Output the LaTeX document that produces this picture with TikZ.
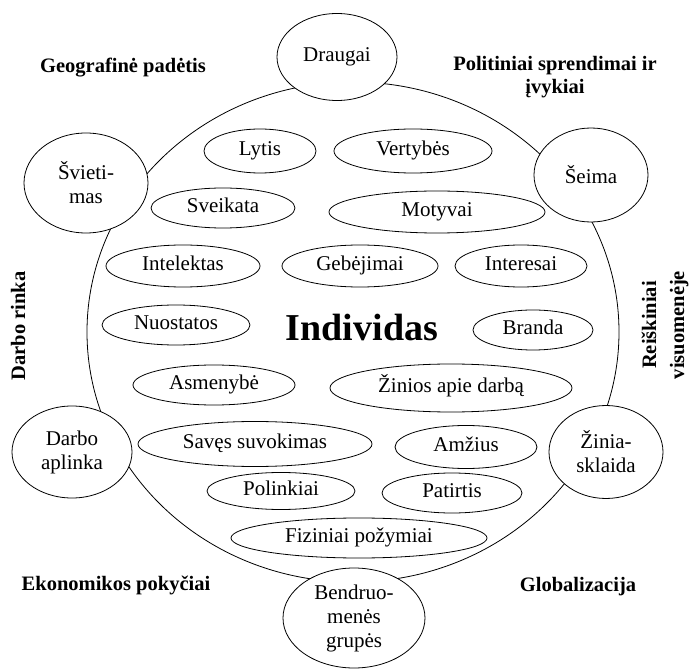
\documentclass[tikz,border=0pt]{standalone}
\usepackage{fontspec}
\setmainfont{Liberation Serif}
\usetikzlibrary{shapes.geometric}
\begin{document}
\begin{tikzpicture}[x=1pt,y=-1pt,
  every node/.style={inner sep=0pt},
  inner/.style={draw, ellipse, line width=0.8pt, font=\fontsize{21}{24}\selectfont, text height=14pt, text depth=5pt},
  outer/.style={draw, ellipse, fill=white, line width=0.8pt, align=center, font=\fontsize{21}{24}\selectfont},
  lab/.style={align=center, font=\fontsize{20.5}{23}\selectfont\bfseries},
  bigring/.style={draw, ellipse, line width=0.8pt}]
\useasboundingbox (0,0) rectangle (689,671);
% large ring
\node[bigring, minimum width=532pt, minimum height=500pt] (ring) at (353,332) {};
\node[font=\fontsize{38}{40}\selectfont\bfseries] (ind) at (362,328) {Individas};
% inner factors
\node[inner, minimum width=112pt, minimum height=44pt] (lytis) at (260,151) {Lytis};
\node[inner, minimum width=158pt, minimum height=44pt] (vert) at (413,151) {Vertybės};
\node[inner, minimum width=144pt, minimum height=40pt] (sveik) at (223,208) {Sveikata};
\node[inner, minimum width=216pt, minimum height=42pt] (motyv) at (437,212) {Motyvai};
\node[inner, minimum width=154pt, minimum height=42pt] (intel) at (183,266) {Intelektas};
\node[inner, minimum width=156pt, minimum height=42pt] (gebej) at (360,266) {Gebėjimai};
\node[inner, minimum width=132pt, minimum height=42pt] (inter) at (521,266) {Interesai};
\node[inner, minimum width=148pt, minimum height=40pt] (nuost) at (176,325) {Nuostatos};
\node[inner, minimum width=120pt, minimum height=40pt] (brand) at (533,330) {Branda};
\node[inner, minimum width=162pt, minimum height=40pt] (asmen) at (214,385) {Asmenybė};
\node[inner, minimum width=242pt, minimum height=48pt] (zinios) at (451,388) {Žinios apie darbą};
\node[inner, minimum width=234pt, minimum height=45pt] (saves) at (255,444) {Savęs suvokimas};
\node[inner, minimum width=142pt, minimum height=43pt] (amz) at (466,447) {Amžius};
\node[inner, minimum width=148pt, minimum height=37pt] (polink) at (281,491) {Polinkiai};
\node[inner, minimum width=140pt, minimum height=40pt] (patirt) at (452,493) {Patirtis};
\node[inner, minimum width=256pt, minimum height=40pt] (fizin) at (359,538) {Fiziniai požymiai};
% outer environment
\node[outer, minimum width=120pt, minimum height=87pt] (draug) at (337,57) {Draugai};
\node[outer, minimum width=124pt, minimum height=100pt] (sviet) at (86,183) {Švieti-\\mas};
\node[outer, minimum width=114pt, minimum height=94pt] (seima) at (591,175) {Šeima};
\node[outer, minimum width=120pt, minimum height=92pt] (darboapl) at (72,452) {Darbo\\aplinka};
\node[outer, minimum width=114pt, minimum height=93pt] (zinia) at (606,452) {Žinia-\\sklaida};
\node[outer, minimum width=142pt, minimum height=100pt] (bendr) at (354,618) {Bendruo-\\menės\\grupės};
% macro factors
\node[lab] (geo) at (123,68) {Geografinė padėtis};
\node[lab] (polit) at (555,77) {Politiniai sprendimai ir\\įvykiai};
\node[lab, rotate=90] (darbor) at (18,326) {Darbo rinka};
\node[lab, rotate=90, font=\fontsize{20.5}{28}\selectfont\bfseries] (reisk) at (665,325) {Reiškiniai\\visuomenėje};
\node[lab] (ekon) at (116,585) {Ekonomikos pokyčiai};
\node[lab] (glob) at (578,587) {Globalizacija};
\end{tikzpicture}
\end{document}
